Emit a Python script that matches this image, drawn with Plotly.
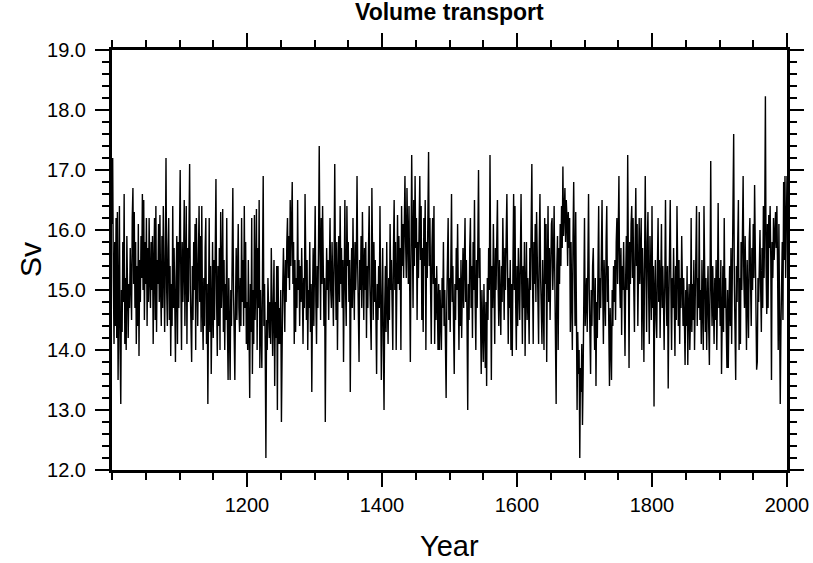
import plotly.graph_objects as go

start_year = 1000

sv_1000s = [
16.1,17.2,15.2,14.1,15.8,14.4,16.2,14.2,16.3,13.5,
14.7,16.4,14.0,13.1,15.0,14.3,15.8,14.8,16.6,14.1,
15.2,14.0,15.9,14.4,14.2,15.1,14.7,15.7,15.0,14.5,
16.2,16.7,15.1,16.3,14.7,15.8,14.1,15.4,14.4,16.1,
13.9,15.5,14.8,15.9,15.2,16.6,15.0,16.5,14.5,15.8,
15.1,16.2,14.4,15.7,14.8,16.2,15.2,14.7,15.8,15.0,
15.9,14.1,15.4,16.2,14.5,16.4,14.3,15.5,15.1,16.1,
14.8,16.25,15.0,14.4,15.9,14.7,16.4,14.8,14.3,15.5,
17.2,15.0,14.4,15.7,16.2,14.5,15.4,13.9,15.1,14.4,
16.4,14.7,15.7,14.8,13.8,15.2,15.9,14.1,15.8,14.7,
15.5,17.0,15.1,14.0,15.8,14.8,15.4,16.5,14.4,15.2,
16.4,14.1,15.7,14.8,16.1,17.1,15.0,14.4,13.8,15.4,
14.5,15.8,15.0,16.1,14.0,16.2,15.1,14.4,15.5,16.4,
14.8,15.9,14.3,16.4,14.7,14.0,15.2,14.4,15.7,16.2,
14.1,15.1,13.1,14.7,16.2,14.3,15.4,13.6,14.8,15.8,
14.2,15.5,14.5,16.1,16.85,14.8,13.9,15.4,14.4,15.7,
14.0,16.3,14.7,15.2,16.35,14.3,15.5,14.0,15.1,14.5,
16.2,14.4,13.5,15.2,14.1,13.5,15.0,14.4,15.5,16.7,
15.0,14.4,13.5,14.8,15.7,14.5,15.4,16.1,14.7,14.3,
15.2,14.4,16.2,14.8,15.5,14.4,16.4,14.7,15.8,14.1,
]

sv_1200s = [
14.8,14.0,15.5,14.4,13.2,15.1,14.3,16.2,13.6,15.0,
14.1,16.25,14.5,15.2,16.35,14.0,15.7,14.7,16.5,13.7,
15.0,14.3,13.7,15.4,16.9,14.4,15.1,14.0,12.2,14.5,
14.0,15.2,14.3,14.2,14.8,14.1,15.7,14.4,13.9,14.7,
15.5,13.4,14.8,14.2,15.4,13.0,15.4,14.1,14.7,14.1,
15.0,12.8,14.4,15.1,15.7,14.5,14.3,15.5,14.8,15.8,
16.2,15.2,15.9,15.0,16.5,15.4,16.1,16.8,15.1,15.8,
14.1,15.5,14.3,15.2,14.7,16.5,15.0,15.5,14.4,15.4,
14.8,15.7,15.0,14.1,15.2,14.7,16.6,15.1,14.5,15.5,
14.0,15.0,14.7,15.8,14.3,15.1,13.3,14.8,15.7,14.4,
15.2,16.4,14.8,14.1,15.4,14.7,15.8,17.4,15.7,14.5,
16.2,15.1,16.4,15.5,14.4,15.2,12.8,14.8,15.7,15.0,
15.5,14.5,15.4,16.2,15.0,14.7,15.8,15.1,14.4,15.5,
17.1,15.4,14.5,15.8,14.0,15.2,15.9,14.8,16.4,15.1,
15.7,14.7,15.5,13.8,15.2,16.5,15.0,14.4,16.4,15.4,
15.8,14.8,15.5,13.3,15.0,15.7,14.7,16.2,15.2,14.5,
15.8,15.0,15.5,16.9,15.4,14.8,13.8,15.5,15.0,15.9,
14.7,16.3,15.2,14.5,15.7,15.0,15.8,14.2,15.4,14.7,
15.7,16.4,15.1,14.4,14.0,16.7,15.2,14.5,15.8,14.8,
15.5,14.3,13.6,15.1,14.5,15.4,14.7,16.4,14.8,13.5,
]

sv_1400s = [
14.8,15.7,14.1,13.0,14.7,15.4,14.3,15.8,14.8,14.1,
15.2,14.5,16.1,15.0,15.5,14.4,14.0,15.7,16.5,15.0,
15.8,14.0,15.5,16.25,15.1,15.9,15.0,15.7,14.0,16.4,
15.4,16.1,15.2,16.2,16.9,15.8,15.2,16.7,16.1,15.1,
16.4,15.5,13.8,15.7,17.25,15.9,14.7,16.5,15.4,16.9,
15.7,16.2,14.5,15.8,15.2,16.1,16.9,15.5,16.4,14.5,
15.7,14.3,16.2,15.4,16.5,14.0,15.8,15.2,16.1,17.3,
15.4,16.2,15.0,14.1,15.7,16.2,15.1,16.4,14.1,15.2,
14.5,15.4,14.8,14.0,15.1,14.0,15.0,14.4,14.0,15.2,
14.7,15.8,14.4,15.0,14.3,13.2,14.8,15.4,16.2,14.5,
15.2,14.3,15.5,16.6,14.8,15.4,14.4,13.6,15.1,14.5,
15.7,15.0,16.1,14.7,14.0,15.2,14.4,15.5,14.2,15.0,
15.7,14.7,15.4,16.2,14.8,15.5,14.4,13.0,15.1,14.5,
15.7,16.2,14.7,15.4,14.2,15.8,15.0,16.5,14.8,14.0,
15.5,14.7,15.8,17.0,15.2,15.7,14.5,13.6,15.0,14.3,
13.8,15.1,14.4,13.7,14.8,13.4,15.2,14.5,15.7,15.0,
17.25,15.1,13.5,15.4,14.7,16.1,15.2,14.1,15.7,15.0,
15.8,16.5,15.1,14.4,15.5,15.0,14.25,15.4,14.8,16.2,
15.2,14.5,15.7,15.0,15.9,16.6,15.4,14.1,15.2,14.7,
15.5,14.0,15.1,13.9,15.4,16.6,15.0,16.4,14.8,14.0,
]

sv_1600s = [
15.4,14.4,15.7,15.0,14.5,15.5,16.6,15.1,14.1,15.4,
14.7,15.8,13.9,15.0,15.8,14.5,15.2,14.8,14.1,15.7,
15.0,16.1,17.1,15.2,14.1,15.8,15.1,16.1,14.8,16.3,
15.4,14.7,14.1,15.8,16.6,15.2,14.5,14.1,15.5,15.0,
14.0,16.2,15.1,16.1,13.8,15.4,16.4,14.8,15.7,14.5,
15.4,16.1,16.2,15.0,15.5,16.4,15.2,14.4,13.1,15.4,
15.9,14.0,15.7,15.1,16.1,15.4,16.4,15.7,17.06,15.9,
16.2,16.7,15.8,16.5,16.2,15.4,16.3,15.7,16.2,14.3,
15.8,15.2,14.0,15.9,16.8,15.5,14.4,16.3,14.2,13.0,
14.3,13.6,14.0,12.2,13.7,13.3,14.1,12.75,13.6,14.5,
16.2,14.4,15.1,15.2,14.3,15.5,16.6,15.0,14.5,13.6,
15.0,14.4,15.4,15.7,14.7,14.0,15.2,13.4,14.8,14.2,
15.4,16.4,14.5,15.2,14.7,15.7,16.5,15.0,14.1,15.5,
15.0,14.4,15.8,16.4,14.8,15.4,14.4,13.4,14.7,14.2,
13.5,15.0,14.4,15.4,14.8,15.5,14.5,15.8,16.2,15.1,
15.7,16.9,15.2,14.7,15.7,14.25,15.4,15.0,15.8,14.5,
13.9,15.2,15.9,15.0,17.25,15.5,13.7,15.8,15.1,16.1,
16.4,15.2,16.2,15.0,14.3,15.8,16.7,15.4,16.1,14.4,
15.5,16.2,15.1,15.8,16.2,14.0,15.7,15.0,13.8,15.5,
16.9,15.4,14.3,15.8,16.3,15.0,14.1,15.9,15.2,14.5,
]

sv_1800s = [
16.4,14.7,15.4,13.06,15.0,15.5,14.5,14.2,15.4,16.2,
14.8,15.5,14.2,15.1,16.1,14.7,15.4,14.8,14.0,15.2,
16.5,15.0,14.4,15.4,13.36,14.8,15.5,16.5,15.0,14.0,
15.2,14.7,15.7,15.0,13.9,15.4,14.5,16.4,15.1,14.4,
15.5,14.1,15.2,14.7,15.9,15.0,14.4,15.2,14.3,13.75,
15.0,14.4,15.4,13.75,14.7,15.1,14.0,14.5,16.2,14.3,
15.1,14.5,15.5,14.0,14.8,15.4,16.4,14.4,15.2,14.7,
16.3,14.5,15.0,14.1,15.5,14.7,14.0,16.4,14.8,14.3,
15.2,14.0,14.8,15.4,14.4,13.75,15.1,17.15,15.0,14.4,
15.4,14.7,14.1,15.2,14.5,15.5,14.0,15.0,16.45,14.7,
15.2,14.4,15.5,13.6,14.8,15.4,14.3,16.2,14.7,15.2,
14.4,13.7,15.0,13.7,14.7,15.4,14.4,15.7,14.1,15.2,
16.1,17.6,15.1,14.5,13.5,15.4,14.8,15.8,16.5,14.0,
15.2,14.1,15.8,15.0,15.7,16.9,15.2,14.7,15.9,15.0,
14.0,15.5,15.0,14.2,15.8,16.2,15.1,14.4,15.7,15.0,
16.1,15.2,16.75,15.4,14.7,13.67,13.8,15.2,14.8,15.8,
16.0,15.0,14.3,15.7,14.7,16.4,15.2,16.2,18.23,15.4,
14.6,16.1,14.7,16.25,15.7,16.4,15.5,13.5,15.8,15.2,
16.2,15.5,16.2,16.3,15.7,16.4,15.4,14.0,16.1,14.8,
13.1,14.4,15.4,15.8,14.5,16.8,15.5,16.9,15.2,16.5,
16.9,
]

sv = sv_1000s + sv_1200s + sv_1400s + sv_1600s + sv_1800s
years = list(range(start_year, start_year + len(sv)))

x_tick_vals = [1200, 1400, 1600, 1800, 2000]
x_tick_text = ["1200", "1400", "1600", "1800", "2000"]
y_tick_vals = [12, 13, 14, 15, 16, 17, 18, 19]

title_text = "Volume transport"
x_title = "Year"
y_title = "Sv"

font_family = "Liberation Sans, Arial, Helvetica, sans-serif"

fig = go.Figure()
fig.add_trace(go.Scatter(x=years, y=sv, mode="lines",
                         line=dict(color="black", width=1.4),
                         hoverinfo="skip", showlegend=False))

axis_common = dict(
    showline=True, linecolor="black", linewidth=3, mirror="ticks",
    ticks="outside", ticklen=14, tickwidth=2, tickcolor="black",
    showgrid=False, zeroline=False, automargin=False,
    tickfont=dict(family=font_family, size=20, color="black"),
)

fig.update_xaxes(
    range=[1000, 2000], tickmode="array", tickvals=x_tick_vals,
    ticktext=x_tick_text, ticklabelstandoff=1,
    minor=dict(ticks="outside", ticklen=7, tickwidth=2, tickcolor="black",
               tick0=1000, dtick=50, showgrid=False),
    **axis_common,
)
fig.update_yaxes(
    range=[12, 19], tickmode="array", tickvals=y_tick_vals,
    tickformat=".1f", ticklabelstandoff=5,
    minor=dict(ticks="outside", ticklen=7, tickwidth=2, tickcolor="black",
               tick0=12, dtick=0.2, showgrid=False),
    **axis_common,
)

fig.update_layout(
    width=813, height=563,
    margin=dict(l=112, r=26, t=50, b=93, pad=0),
    plot_bgcolor="white", paper_bgcolor="white",
    annotations=[
        dict(text="<b>" + title_text + "</b>", x=0.5, y=1,
             xref="paper", yref="paper", yanchor="middle", yshift=38,
             showarrow=False,
             font=dict(family=font_family, size=23, color="black")),
        dict(text=x_title, x=0.5, y=(470 - 546) / 420,
             xref="paper", yref="paper", xanchor="center", yanchor="middle",
             showarrow=False,
             font=dict(family=font_family, size=29, color="black")),
        dict(text=y_title, x=(30 - 112) / 675, y=0.5, textangle=-90,
             xref="paper", yref="paper", xanchor="center", yanchor="middle",
             showarrow=False,
             font=dict(family=font_family, size=30, color="black")),
    ],
)

fig.write_html("out.html", config={"displayModeBar": False},
               post_script="document.body.style.margin='0';document.body.style.padding='0';")
